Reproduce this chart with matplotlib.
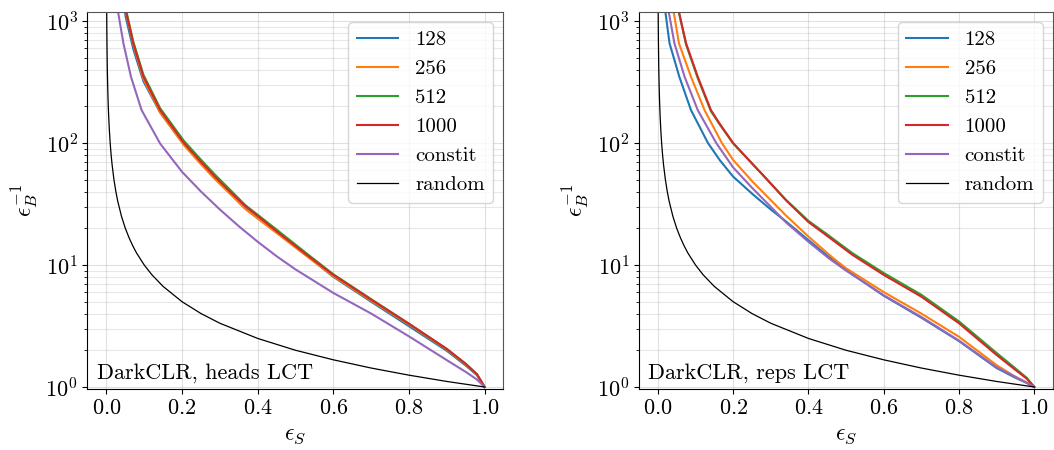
"""Background rejection vs signal efficiency for DarkCLR heads / reps LCT."""

import matplotlib

matplotlib.use("Agg")
import matplotlib.pyplot as plt
from matplotlib.ticker import LogLocator, NullFormatter

plt.rcParams.update(
    {
        "font.family": "serif",
        "font.serif": ["cmr10"],
        "mathtext.fontset": "cm",
        "axes.formatter.use_mathtext": True,
        "axes.unicode_minus": False,
    }
)

# --- left panel: heads LCT ---
heads_x = [0.048, 0.051, 0.071, 0.098, 0.142, 0.205, 0.25, 0.287, 0.33, 0.367,
           0.4, 0.45, 0.53, 0.6, 0.7, 0.8, 0.9, 0.95, 0.98, 1.0]
heads_128 = [1250, 1080, 590, 320, 178, 97, 68, 51.5, 38, 29.2,
             24.3, 18.5, 11.9, 8.0, 5.0, 3.15, 1.98, 1.5, 1.25, 1.0]
heads_256 = [1350, 1200, 640, 335, 178, 96, 67, 50.5, 37.5, 28.8,
             24, 18.3, 11.8, 8.1, 5.1, 3.25, 2.02, 1.53, 1.26, 1.0]
heads_512 = [1450, 1270, 680, 362, 193, 104, 73, 55, 40.5, 31,
             25.8, 19.5, 12.4, 8.4, 5.25, 3.3, 2.05, 1.55, 1.27, 1.0]
heads_1000 = [1400, 1230, 656, 349, 186, 100, 70, 53, 39, 30.5,
              25.3, 18.9, 12.1, 8.3, 5.2, 3.3, 2.05, 1.55, 1.27, 1.0]
heads_constit_x = [0.028, 0.030, 0.045, 0.065, 0.093, 0.142, 0.2, 0.25, 0.3,
                   0.35, 0.4, 0.45, 0.5, 0.6, 0.7, 0.8, 0.9, 0.95, 0.98, 1.0]
heads_constit = [1400, 1230, 656, 349, 186, 99, 58, 40, 28.5,
                 20.8, 15.5, 11.8, 9.2, 5.9, 4.0, 2.6, 1.66, 1.33, 1.15, 1.0]

# --- right panel: reps LCT ---
reps_128_x = [0.018, 0.020, 0.031, 0.057, 0.088, 0.133, 0.165, 0.2, 0.252, 0.3,
              0.34, 0.4, 0.455, 0.5, 0.6, 0.7, 0.8, 0.9, 0.95, 0.98, 1.0]
reps_128 = [1400, 1185, 656, 349, 186, 100, 72, 53, 38, 28.5,
            22.8, 16, 11.6, 9.1, 5.6, 3.7, 2.38, 1.43, 1.19, 1.08, 1.0]
reps_256_x = [0.038, 0.042, 0.056, 0.088, 0.124, 0.17, 0.2, 0.252, 0.34, 0.4,
              0.464, 0.5, 0.6, 0.7, 0.8, 0.9, 0.95, 0.98, 1.0]
reps_256 = [1400, 1185, 656, 349, 186, 100, 72.6, 48, 25.5, 17.1,
            11.5, 9.4, 6.0, 4.0, 2.58, 1.51, 1.21, 1.09, 1.0]
reps_big_x = [0.053, 0.056, 0.075, 0.106, 0.141, 0.1635, 0.2, 0.252, 0.283, 0.34,
              0.4, 0.45, 0.517, 0.6, 0.7, 0.8, 0.9, 0.95, 0.98, 1.0]
reps_512 = [1400, 1170, 640, 340, 182, 143, 99, 67, 53, 34.3,
            23, 17.8, 12.5, 8.6, 5.7, 3.45, 1.9, 1.42, 1.19, 1.0]
reps_1000 = [1400, 1185, 656, 349, 186, 145, 100, 67, 53, 34,
             22.5, 17.3, 12.1, 8.3, 5.5, 3.33, 1.83, 1.38, 1.17, 1.0]
reps_constit_x = [0.027, 0.029, 0.044, 0.071, 0.106, 0.155, 0.2, 0.25, 0.3,
                  0.34, 0.4, 0.455, 0.5, 0.6, 0.7, 0.8, 0.9, 0.95, 0.98, 1.0]
reps_constit = [1400, 1185, 656, 349, 186, 100, 63, 43, 30,
                22.4, 15.5, 11.3, 9.0, 5.65, 3.75, 2.4, 1.45, 1.21, 1.08, 1.0]

# --- random classifier ---
random_x = [0.0008, 0.001, 0.0013, 0.0017, 0.002, 0.0025, 0.003, 0.004, 0.005, 0.006,
            0.008, 0.01, 0.0125, 0.015, 0.02, 0.025, 0.03, 0.04, 0.05, 0.06,
            0.07, 0.08, 0.1, 0.12, 0.15, 0.2, 0.25, 0.3, 0.4, 0.5,
            0.6, 0.7, 0.8, 0.9, 1.0]
random_y = [1250, 1000, 769, 588, 500, 400, 333, 250, 200, 167,
            125, 100, 80, 66.7, 50, 40, 33.3, 25, 20, 16.7,
            14.3, 12.5, 10, 8.33, 6.67, 5, 4, 3.33, 2.5, 2,
            1.67, 1.43, 1.25, 1.11, 1.0]

labels = ["128", "256", "512", "1000", "constit"]
colors = ["C0", "C1", "C2", "C3", "C4"]


def draw_panel(ax, series, title):
    for (x, y), label, color in zip(series, labels, colors):
        ax.plot(x, y, color=color, lw=1.5, label=label)
    ax.plot(random_x, random_y, color="black", lw=0.9, label="random")
    ax.set_yscale("log")
    ax.set_xlim(-0.05, 1.05)
    ax.set_ylim(0.963, 1185)
    ax.set_xticks([0.0, 0.2, 0.4, 0.6, 0.8, 1.0])
    ax.yaxis.set_minor_locator(LogLocator(base=10, subs=range(2, 10), numticks=20))
    ax.yaxis.set_minor_formatter(NullFormatter())
    ax.grid(which="major", color="#b0b0b0", alpha=0.38, lw=0.8)
    ax.grid(which="minor", axis="y", color="#b0b0b0", alpha=0.3, lw=0.8)
    ax.set_axisbelow(True)
    ax.tick_params(which="both", direction="out", top=False, right=False, labelsize=16)
    for side in ("top", "right"):
        ax.spines[side].set_color("#555555")
    ax.set_xlabel(r"$\epsilon_S$", fontsize=17)
    ax.set_ylabel(r"$\epsilon_B^{-1}$", fontsize=17)
    ax.legend(loc="upper right", fontsize=15)
    ax.text(0.022, 0.015, title, transform=ax.transAxes, fontsize=16, va="bottom", ha="left")


fig = plt.figure(figsize=(10.54, 4.5), dpi=100)
ax1 = fig.add_axes([0.0830, 0.1356, 0.3947, 0.8378])
ax2 = fig.add_axes([0.6063, 0.1356, 0.3928, 0.8378])

draw_panel(
    ax1,
    [(heads_x, heads_128), (heads_x, heads_256), (heads_x, heads_512),
     (heads_x, heads_1000), (heads_constit_x, heads_constit)],
    "DarkCLR, heads LCT",
)
draw_panel(
    ax2,
    [(reps_128_x, reps_128), (reps_256_x, reps_256), (reps_big_x, reps_512),
     (reps_big_x, reps_1000), (reps_constit_x, reps_constit)],
    "DarkCLR, reps LCT",
)

fig.savefig("out.png", dpi=100)
plt.close(fig)
